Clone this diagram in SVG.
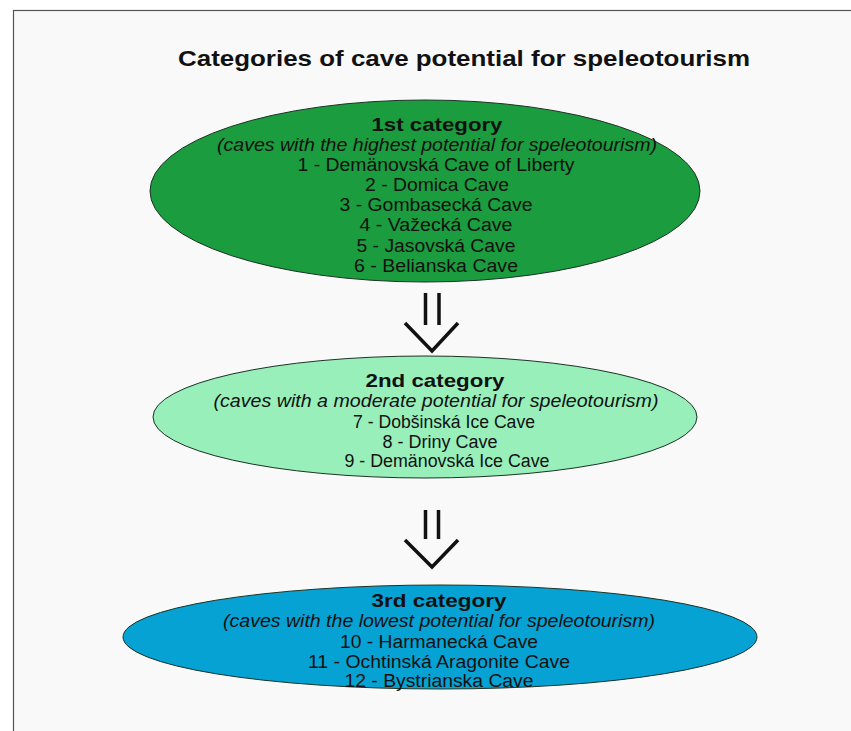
<svg xmlns="http://www.w3.org/2000/svg" width="851" height="731" viewBox="0 0 851 731">
<style>
text{font-family:"Liberation Sans",Arial,sans-serif;fill:#111;text-anchor:middle}
.title{font-size:22.5px;font-weight:bold}
.head{font-size:19px;font-weight:bold}
.sub{font-size:18px;font-style:italic}
.item{font-size:18px}
.node{stroke:#1c3326;stroke-width:1}
.arr{stroke:#111;stroke-width:3.5;fill:none}
</style>
<rect x="0" y="0" width="851" height="731" fill="#ffffff"/>
<rect x="13.5" y="10.5" width="845" height="730" fill="#f9f9f9" stroke="#555" stroke-width="1.2"/>
<text class="title" x="464" y="66" textLength="572" lengthAdjust="spacingAndGlyphs">Categories of cave potential for speleotourism</text>
<g id="cat1">
<ellipse class="node" cx="425" cy="191" rx="275" ry="91" fill="#1b9c3e"/>
<text class="head" x="437" y="131" textLength="131" lengthAdjust="spacingAndGlyphs">1st category</text>
<text class="sub" x="437" y="151" textLength="440" lengthAdjust="spacingAndGlyphs">(caves with the highest potential for speleotourism)</text>
<text class="item" x="436" y="171" textLength="277" lengthAdjust="spacingAndGlyphs">1 - Demänovská Cave of Liberty</text>
<text class="item" x="437" y="191" textLength="144" lengthAdjust="spacingAndGlyphs">2 - Domica Cave</text>
<text class="item" x="436" y="211" textLength="193" lengthAdjust="spacingAndGlyphs">3 - Gombasecká Cave</text>
<text class="item" x="436" y="231" textLength="153" lengthAdjust="spacingAndGlyphs">4 - Važecká Cave</text>
<text class="item" x="436" y="252" textLength="159" lengthAdjust="spacingAndGlyphs">5 - Jasovská Cave</text>
<text class="item" x="436" y="272" textLength="164" lengthAdjust="spacingAndGlyphs">6 - Belianska Cave</text>
</g>
<g id="cat2">
<ellipse class="node" cx="425" cy="417" rx="272" ry="61" fill="#98efb9"/>
<text class="head" x="435" y="387" textLength="139" lengthAdjust="spacingAndGlyphs">2nd category</text>
<text class="sub" x="436" y="407" textLength="445" lengthAdjust="spacingAndGlyphs">(caves with a moderate potential for speleotourism)</text>
<text class="item" x="444" y="428" textLength="182" lengthAdjust="spacingAndGlyphs">7 - Dobšinská Ice Cave</text>
<text class="item" x="440" y="448" textLength="115" lengthAdjust="spacingAndGlyphs">8 - Driny Cave</text>
<text class="item" x="447" y="467" textLength="205" lengthAdjust="spacingAndGlyphs">9 - Demänovská Ice Cave</text>
</g>
<g id="cat3">
<ellipse class="node" cx="440" cy="637" rx="317" ry="52" fill="#06a2d3"/>
<text class="head" x="439" y="607" textLength="135" lengthAdjust="spacingAndGlyphs">3rd category</text>
<text class="sub" x="439" y="627" textLength="432" lengthAdjust="spacingAndGlyphs">(caves with the lowest potential for speleotourism)</text>
<text class="item" x="439" y="648" textLength="198" lengthAdjust="spacingAndGlyphs">10 - Harmanecká Cave</text>
<text class="item" x="439" y="668" textLength="262" lengthAdjust="spacingAndGlyphs">11 - Ochtinská Aragonite Cave</text>
<text class="item" x="439" y="687" textLength="189" lengthAdjust="spacingAndGlyphs">12 - Bystrianska Cave</text>
</g>
<g id="connectors">
<path class="arr" d="M425.5 293V325M439 293V325M405 323L432 351L458 323"/>
<path class="arr" d="M425.5 510V539M438.5 510V539M405 540L432 567L458 540"/>
</g>
</svg>
